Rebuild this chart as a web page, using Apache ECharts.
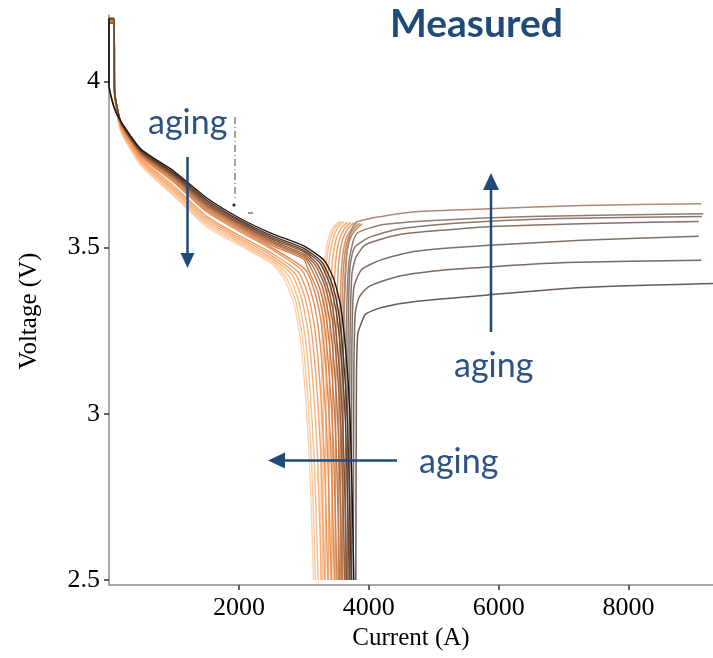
<!DOCTYPE html>
<html>
<head>
<meta charset="utf-8">
<script src="https://cdn.jsdelivr.net/npm/echarts@6/dist/echarts.min.js"></script>
<style>
  html, body { margin: 0; padding: 0; background: #fff; }
  #chart { width: 713px; height: 658px; }
</style>
</head>
<body>
<div id="chart"></div>
<script>
// Axis ticks
const currentTicks = [2000, 4000, 6000, 8000];
const voltageTicks = [2.5, 3, 3.5, 4];

// Discharge traces, one per cycle, most aged (light) first, freshest (dark) last: [current A, voltage V]
const discharge = [
  [[0,4.19],[80,4.19],[85,3.955],[140,3.885],[200,3.84],[500,3.745],[1000,3.655],[1500,3.563],[2000,3.508],[2500,3.452],[2700,3.405],[2850,3.33],[2950,3.22],[3030,3.04],[3090,2.84],[3125,2.65],[3150,2.5]],
  [[0,4.188],[80,4.188],[85,3.957],[140,3.887],[200,3.843],[500,3.749],[1000,3.66],[1500,3.569],[2000,3.513],[2500,3.458],[2730,3.409],[2880,3.335],[2980,3.227],[3060,3.049],[3120,2.851],[3155,2.657],[3180,2.5]],
  [[0,4.186],[80,4.186],[85,3.959],[140,3.89],[200,3.846],[500,3.753],[1000,3.666],[1500,3.575],[2000,3.518],[2500,3.464],[2770,3.414],[2920,3.339],[3020,3.233],[3100,3.058],[3160,2.861],[3195,2.663],[3220,2.5]],
  [[0,4.184],[80,4.184],[85,3.961],[140,3.892],[200,3.849],[500,3.757],[1000,3.672],[1500,3.581],[2000,3.524],[2500,3.47],[2820,3.418],[2970,3.344],[3070,3.24],[3150,3.068],[3210,2.872],[3245,2.67],[3270,2.5]],
  [[0,4.182],[80,4.182],[85,3.963],[140,3.895],[200,3.852],[500,3.761],[1000,3.678],[1500,3.588],[2000,3.53],[2500,3.477],[2870,3.421],[3020,3.348],[3120,3.246],[3200,3.077],[3260,2.882],[3295,2.676],[3320,2.5]],
  [[0,4.18],[80,4.18],[85,3.965],[140,3.898],[200,3.856],[500,3.766],[1000,3.685],[1500,3.595],[2000,3.537],[2500,3.484],[2920,3.425],[3070,3.354],[3170,3.254],[3250,3.088],[3310,2.895],[3345,2.684],[3370,2.5]],
  [[0,4.185],[80,4.185],[85,3.967],[140,3.902],[200,3.861],[500,3.772],[1000,3.696],[1500,3.608],[2000,3.55],[2500,3.496],[2970,3.432],[3120,3.36],[3220,3.263],[3300,3.101],[3360,2.909],[3395,2.693],[3420,2.5]],
  [[0,4.183],[80,4.183],[85,3.968],[140,3.903],[200,3.862],[500,3.775],[1000,3.7],[1500,3.612],[2000,3.555],[2500,3.501],[3020,3.435],[3170,3.365],[3270,3.27],[3350,3.11],[3410,2.92],[3445,2.7],[3470,2.5]],
  [[0,4.181],[80,4.181],[85,3.969],[140,3.904],[200,3.864],[500,3.778],[1000,3.704],[1500,3.617],[2000,3.56],[2500,3.507],[3000,3.465],[3060,3.438],[3210,3.37],[3310,3.277],[3390,3.119],[3450,2.931],[3485,2.707],[3510,2.5]],
  [[0,4.179],[80,4.179],[85,3.97],[140,3.905],[200,3.866],[500,3.78],[1000,3.708],[1500,3.622],[2000,3.564],[2500,3.512],[3000,3.471],[3100,3.442],[3250,3.374],[3350,3.283],[3430,3.128],[3490,2.941],[3525,2.713],[3550,2.5]],
  [[0,4.177],[80,4.177],[85,3.971],[140,3.906],[200,3.867],[500,3.782],[1000,3.711],[1500,3.626],[2000,3.568],[2500,3.517],[3000,3.476],[3140,3.444],[3290,3.378],[3390,3.288],[3470,3.136],[3530,2.949],[3565,2.718],[3590,2.5]],
  [[0,4.175],[80,4.175],[85,3.972],[140,3.907],[200,3.868],[500,3.784],[1000,3.714],[1500,3.63],[2000,3.572],[2500,3.521],[3000,3.481],[3180,3.447],[3330,3.382],[3430,3.294],[3510,3.143],[3570,2.958],[3605,2.724],[3630,2.5]],
  [[0,4.19],[80,4.19],[85,3.973],[140,3.908],[200,3.87],[500,3.787],[1000,3.717],[1500,3.634],[2000,3.575],[2500,3.526],[3000,3.487],[3210,3.45],[3360,3.385],[3460,3.299],[3540,3.151],[3600,2.966],[3635,2.729],[3660,2.5]],
  [[0,4.188],[80,4.188],[85,3.974],[140,3.909],[200,3.871],[500,3.789],[1000,3.721],[1500,3.639],[2000,3.58],[2500,3.531],[3000,3.492],[3250,3.453],[3400,3.39],[3500,3.306],[3580,3.16],[3640,2.977],[3675,2.736],[3700,2.5]],
  [[0,4.19],[0,3.99],[80,3.922],[200,3.873],[500,3.792],[1000,3.725],[1500,3.644],[2000,3.584],[2500,3.536],[3000,3.498],[3280,3.456],[3430,3.394],[3530,3.312],[3610,3.169],[3670,2.987],[3705,2.742],[3730,2.5]],
  [[0,4.19],[0,3.99],[80,3.92],[200,3.875],[500,3.795],[1000,3.73],[1500,3.65],[2000,3.59],[2500,3.543],[3000,3.505],[3320,3.46],[3470,3.4],[3570,3.32],[3650,3.18],[3710,3.0],[3745,2.75],[3770,2.5]]
];

// Voltage recovery after cut-off, same cycle order
const recovery = [
  [[3260,2.5],[3270,3.0],[3285,3.3],[3315,3.45],[3370,3.52],[3450,3.56],[3550,3.58]],
  [[3290,2.5],[3300,3.0],[3315,3.3],[3345,3.45],[3400,3.52],[3480,3.56],[3580,3.579]],
  [[3330,2.5],[3340,3.0],[3355,3.3],[3385,3.45],[3440,3.52],[3520,3.56],[3620,3.578]],
  [[3380,2.5],[3390,3.0],[3405,3.3],[3435,3.45],[3490,3.52],[3570,3.558],[3670,3.577]],
  [[3430,2.5],[3440,3.0],[3455,3.3],[3485,3.45],[3540,3.52],[3620,3.556],[3720,3.576]],
  [[3480,2.5],[3490,3.0],[3505,3.3],[3535,3.45],[3590,3.52],[3670,3.555],[3770,3.575]],
  [[3530,2.5],[3540,3.0],[3555,3.3],[3585,3.45],[3640,3.52],[3720,3.553],[3820,3.574]],
  [[3560,2.5],[3570,3.0],[3585,3.3],[3615,3.45],[3670,3.52],[3750,3.552],[3860,3.573]],
  [[3590,2.5],[3600,3.0],[3615,3.3],[3645,3.45],[3700,3.52],[3780,3.55],[3900,3.572]],
  [[3600,2.5],[3610,3.2],[3650,3.45],[3700,3.53],[3795,3.575],[4200,3.594],[4720,3.608],[5850,3.617],[7280,3.627],[9120,3.632]],
  [[3640,2.5],[3650,3.2],[3690,3.45],[3760,3.52],[3830,3.545],[4200,3.569],[5000,3.582],[6500,3.594],[9150,3.602]],
  [[3670,2.5],[3680,3.2],[3710,3.44],[3780,3.5],[4000,3.53],[4460,3.556],[5385,3.574],[6770,3.587],[9130,3.594]],
  [[3700,2.5],[3710,3.2],[3740,3.42],[3800,3.47],[3950,3.509],[4460,3.539],[5230,3.554],[5890,3.564],[7280,3.572],[9080,3.579]],
  [[3730,2.5],[3740,3.2],[3770,3.38],[3890,3.434],[4200,3.464],[4720,3.489],[5850,3.507],[7280,3.522],[9080,3.534]],
  [[3760,2.5],[3770,3.1],[3790,3.3],[3850,3.35],[4000,3.383],[4460,3.414],[5230,3.434],[5850,3.442],[7030,3.455],[9120,3.462]],
  [[3800,2.5],[3810,3.1],[3830,3.24],[3870,3.265],[3950,3.3],[4200,3.32],[4720,3.338],[5850,3.358],[7280,3.38],[9300,3.392]]
];

// Line colours per cycle
const dischargeColors = ['#fdd3ad','#fcc89b','#fbbd8a','#f9b07a','#f6a46b','#f29a60','#e99258','#dd8a55',
                         '#d08350','#c27a4b','#b06e45','#9c623e','#855337','#6b432e','#4d3124','#1e140f'];
const recoveryColors  = ['#fcd0a8','#fbc597','#f9b986','#f6ad77','#eea36c','#e49b66','#d79462','#c98d62',
                         '#bb8a68','#ae8c74','#927c6f','#8c796d','#857369','#7e6f66','#786a62','#675b54'];

const serif = '"Liberation Serif", "Times New Roman", serif';
const blue = '#1f4a7a';

const series = [];
discharge.forEach((pts, i) => {
  series.push({
    type: 'line', data: pts, showSymbol: false, symbol: 'none', smooth: 0.2,
    lineStyle: { color: dischargeColors[i], width: 1.4 }, z: 2 + i, silent: true
  });
});
recovery.forEach((pts, i) => {
  series.push({
    type: 'line', data: pts, showSymbol: false, symbol: 'none', smooth: 0.2,
    lineStyle: { color: recoveryColors[i], width: 1.5 }, z: 2 + i, silent: true
  });
});

const chart = echarts.init(document.getElementById('chart'), null, { renderer: 'canvas' });
chart.setOption({
  animation: false,
  backgroundColor: '#fff',
  grid: { left: 109, right: 0, top: 15, bottom: 73, containLabel: false },
  xAxis: {
    type: 'value', min: 0, max: 9300,
    name: 'Current (A)', nameLocation: 'middle', nameGap: 41,
    nameTextStyle: { fontFamily: serif, fontSize: 25, color: '#000' },
    axisLine: { show: true, lineStyle: { color: '#8c8c8c', width: 1.5 } },
    axisTick: { show: true, length: 5, customValues: currentTicks, lineStyle: { color: '#333', width: 1.5 } },
    axisLabel: { customValues: currentTicks, formatter: v => String(v), fontFamily: serif, fontSize: 26, color: '#000', margin: 10 },
    splitLine: { show: false }
  },
  yAxis: {
    type: 'value', min: 2.485, max: 4.2,
    name: 'Voltage (V)', nameLocation: 'middle', nameGap: 67,
    nameTextStyle: { fontFamily: serif, fontSize: 25, color: '#000', padding: [0, 22, 0, 0] },
    axisLine: { show: true, lineStyle: { color: '#8c8c8c', width: 1.5 } },
    axisTick: { show: true, length: 5, customValues: voltageTicks, lineStyle: { color: '#333', width: 1.5 } },
    axisLabel: { customValues: voltageTicks, formatter: v => String(v), fontFamily: serif, fontSize: 26, color: '#000', margin: 9 },
    splitLine: { show: false }
  },
  series: series,
  graphic: [
    { type: 'text', left: 390, top: 5, z: 100,
      style: { text: 'Measured', font: 'bold 39px Lato, "Open Sans", sans-serif', fill: blue } },
    { type: 'text', left: 148, top: 106, z: 100,
      style: { text: 'aging', font: '34px Lato, "Open Sans", sans-serif', fill: '#2b5283' } },
    { type: 'text', left: 454, top: 349, z: 100,
      style: { text: 'aging', font: '34px Lato, "Open Sans", sans-serif', fill: '#2b5283' } },
    { type: 'text', left: 419, top: 445, z: 100,
      style: { text: 'aging', font: '34px Lato, "Open Sans", sans-serif', fill: '#2b5283' } },
    // downward arrow
    { type: 'line', z: 100, shape: { x1: 187.5, y1: 157, x2: 187.5, y2: 254 }, style: { stroke: blue, lineWidth: 2.5 } },
    { type: 'polygon', z: 100, shape: { points: [[180.5, 253], [194.5, 253], [187.5, 268]] }, style: { fill: blue } },
    // upward arrow
    { type: 'line', z: 100, shape: { x1: 491, y1: 332, x2: 491, y2: 188 }, style: { stroke: blue, lineWidth: 2.5 } },
    { type: 'polygon', z: 100, shape: { points: [[483, 190], [499, 190], [491, 173]] }, style: { fill: blue } },
    // leftward arrow
    { type: 'line', z: 100, shape: { x1: 397, y1: 460.5, x2: 283, y2: 460.5 }, style: { stroke: blue, lineWidth: 2.5 } },
    { type: 'polygon', z: 100, shape: { points: [[285, 452.5], [285, 468.5], [268, 460.5]] }, style: { fill: blue } },
    // faint dash-dot guide
    { type: 'line', z: 50, shape: { x1: 235, y1: 117, x2: 235, y2: 198 }, style: { stroke: '#444', lineWidth: 1, lineDash: [7, 3, 1, 3] } },
    { type: 'circle', z: 50, shape: { cx: 234, cy: 205, r: 1.6 }, style: { fill: '#222' } },
    { type: 'line', z: 50, shape: { x1: 248, y1: 213, x2: 253, y2: 213 }, style: { stroke: '#333', lineWidth: 1 } }
  ]
});
</script>
</body>
</html>
